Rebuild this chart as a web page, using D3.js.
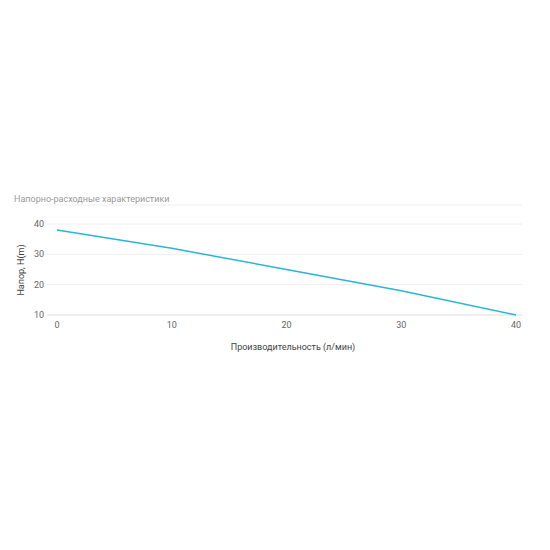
<!DOCTYPE html>
<html>
<head>
<meta charset="utf-8">
<script src="https://d3js.org/d3.v7.min.js"></script>
<style>body{margin:0;background:#fff;font-family:Roboto,sans-serif;}</style>
</head>
<body>
<script>
var flow = [0, 10, 20, 30, 40];
var head = [38, 32, 25, 18, 10];
var yTicks = [10, 20, 30, 40];

var svg = d3.select("body").append("svg").attr("width", 550).attr("height", 550);

var x = d3.scaleLinear().domain([0, 40]).range([57, 516]);
var y = d3.scaleLinear().domain([10, 40]).range([315, 224]);

svg.append("text").attr("x", 14).attr("y", 202).attr("font-size", 9)
  .attr("fill", "#999").text("Напорно-расходные характеристики");
svg.append("line").attr("x1", 47).attr("x2", 522).attr("y1", 205).attr("y2", 205)
  .attr("stroke", "#eee");

svg.selectAll(".grid").data(yTicks).enter().append("line")
  .attr("x1", 47).attr("x2", 522)
  .attr("y1", function (d) { return y(d); }).attr("y2", function (d) { return y(d); })
  .attr("stroke", function (d) { return d === 10 ? "#ddd" : "#eee"; });

svg.selectAll(".yl").data(yTicks).enter().append("text")
  .attr("x", 44).attr("y", function (d) { return y(d) + 3; })
  .attr("text-anchor", "end").attr("font-size", 9).attr("fill", "#666")
  .text(function (d) { return d; });

svg.selectAll(".xl").data(flow).enter().append("text")
  .attr("x", function (d) { return x(d); }).attr("y", 328)
  .attr("text-anchor", "middle").attr("font-size", 9).attr("fill", "#666")
  .text(function (d) { return d; });

svg.append("text").attr("transform", "translate(24,270) rotate(-90)")
  .attr("text-anchor", "middle").attr("font-size", 9).attr("fill", "#444")
  .text("Напор, H(m)");
svg.append("text").attr("x", 293).attr("y", 350)
  .attr("text-anchor", "middle").attr("font-size", 9).attr("fill", "#444")
  .text("Производительность (л/мин)");

var line = d3.line().x(function (d, i) { return x(flow[i]); }).y(function (d) { return y(d); });
svg.append("path").datum(head).attr("d", line).attr("fill", "none")
  .attr("stroke", "#2ab4d8").attr("stroke-width", 1.5);
</script>
</body>
</html>
